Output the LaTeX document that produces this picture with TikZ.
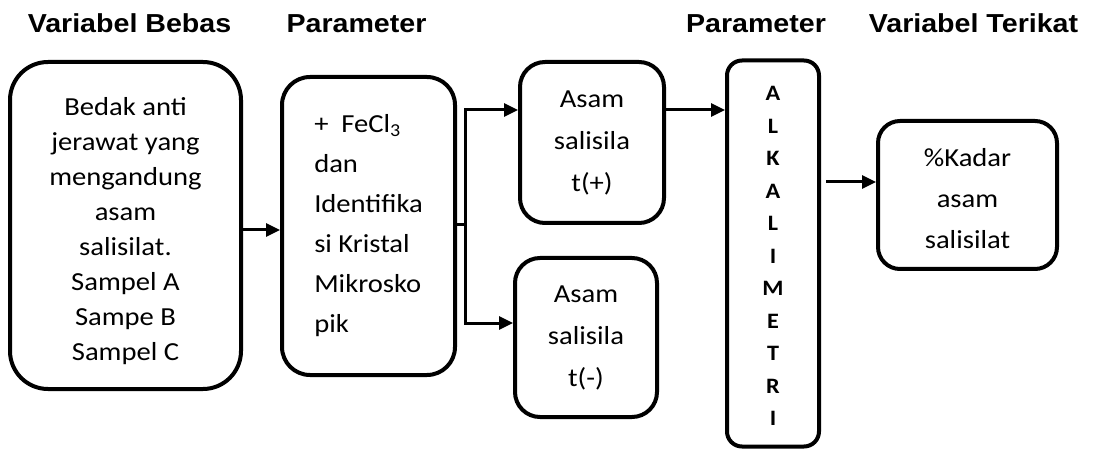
\documentclass[tikz,border=0pt]{standalone}
\usepackage{fontspec}
\setmainfont{Carlito}[FakeStretch=1.1]
\newfontfamily\headfont{Liberation Sans}[FakeStretch=1.1]
\usetikzlibrary{arrows.meta}

\tikzset{
  box/.style={draw, line width=4pt, rounded corners=#1, inner sep=0pt, align=center},
  box/.default=25pt,
  body/.style={font=\fontsize{26}{#1}\selectfont, align=center, inner sep=0pt},
  head/.style={anchor=base, font=\headfont\bfseries\fontsize{26}{30}\selectfont},
  arr/.style={line width=3pt, -{Triangle[length=14pt,width=13pt]}},
}

\begin{document}
\begin{tikzpicture}[x=1pt,y=-1pt]
\useasboundingbox (0,0) rectangle (1093,449);

% column headings
\node[head] (h1) at (129.5,33) {Variabel Bebas};
\node[head] (h2) at (356.5,33) {Parameter};
\node[head] (h3) at (756,33) {Parameter};
\node[head] (h4) at (973.5,33) {Variabel Terikat};

% sample box
\node[box=38pt, minimum width=231pt, minimum height=327pt] (b1) at (125.5,225.5) {};
\node[body=35] (b1t) at ([yshift=-6pt]b1.center)
  {Bedak anti\\jerawat yang\\mengandung\\asam\\salisilat.\\Sampel A\\Sampe B\\Sampel C};

% identification box
\node[box=28pt, body=40, align=left, minimum width=173pt, minimum height=298pt] (b2) at (368.5,226)
  {+\ \ FeCl\textsubscript{3}\\dan\\Identifika\\si Kristal\\Mikrosko\\pik};

% results of identification
\node[box=25pt, body=42, minimum width=144pt, minimum height=161pt] (b3) at (592,142.5)
  {Asam\\salisila\\t(+)};
\node[box=25pt, body=42, minimum width=142pt, minimum height=159pt] (b4) at (586,337.5)
  {Asam\\salisila\\t(-)};

% titration column
\node[box=15pt, minimum width=92pt, minimum height=386pt] (alk) at (773,253.5) {};
\node[font=\bfseries\fontsize{22}{32.5}\selectfont, align=center, inner sep=0pt] (alkt)
  at ([yshift=-2.5pt]alk.center) {A\\L\\K\\A\\L\\I\\M\\E\\T\\R\\I};

% final result
\node[box=22pt, minimum width=179pt, minimum height=148pt] (b5) at (967.5,195) {};
\node[body=41] (b5t) at ([yshift=-4pt]b5.center) {\%Kadar\\asam\\salisilat};

% connector levels
\coordinate (y1) at (0,230);
\coordinate (split) at (465,225);
\coordinate (ya) at (0,110);
\coordinate (yb) at (0,323);
\coordinate (yc) at (0,182);

\draw[arr] (b1.east|-y1) -- (b2.west|-y1);
\draw[arr] (b2.east|-split) -- (split) |- (b3.west|-ya);
\draw[arr] (split) |- (b4.west|-yb);
\draw[arr] (b3.east|-ya) -- (alk.west|-ya);
\draw[arr, shorten <=5pt] (alk.east|-yc) -- (b5.west|-yc);
\end{tikzpicture}
\end{document}
